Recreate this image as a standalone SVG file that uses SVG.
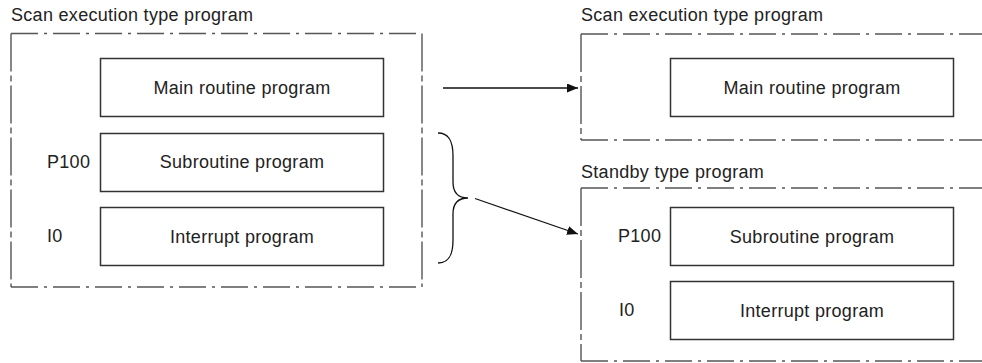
<svg xmlns="http://www.w3.org/2000/svg" width="982" height="363" viewBox="0 0 982 363">
<style>
text{font-family:"Liberation Sans",Arial,sans-serif;font-size:18px;letter-spacing:0.3px;fill:#222}
.c{text-anchor:middle}
.box{fill:#fff;stroke:#333;stroke-width:1.5}
.h{stroke:#555;stroke-width:1.4;stroke-dasharray:27 6 3 6;fill:none}
.v{stroke:#555;stroke-width:1.4;stroke-dasharray:38 4 6 4;fill:none}
.ln{stroke:#111;stroke-width:1.3;fill:none}
</style>
<defs>
<marker id="ah" markerWidth="11" markerHeight="9" refX="11" refY="4.5" orient="auto" markerUnits="userSpaceOnUse">
<path d="M0,0 L11,4.5 L0,9 Z" fill="#111"/>
</marker>
</defs>
<g id="scan-left">
<text x="11" y="21">Scan execution type program</text>
<line class="h" x1="11" y1="33.5" x2="422" y2="33.5"/>
<line class="h" x1="11" y1="287" x2="422" y2="287"/>
<line class="v" x1="11" y1="33.5" x2="11" y2="287"/>
<line class="v" x1="422" y1="33.5" x2="422" y2="287"/>
</g>
<g id="main-left">
<rect class="box" x="100.5" y="58.5" width="283" height="58"/>
<text class="c" x="242" y="93.5">Main routine program</text>
</g>
<g id="sub-left">
<text x="47" y="168">P100</text>
<rect class="box" x="100.5" y="133.5" width="283" height="58"/>
<text class="c" x="242" y="168">Subroutine program</text>
</g>
<g id="int-left">
<text x="47" y="242">I0</text>
<rect class="box" x="100.5" y="207.5" width="283" height="58"/>
<text class="c" x="242" y="243">Interrupt program</text>
</g>
<g id="scan-right">
<text x="581" y="21">Scan execution type program</text>
<line class="h" x1="581" y1="34" x2="990" y2="34"/>
<line class="h" x1="581" y1="140" x2="990" y2="140"/>
<line class="v" x1="581" y1="34" x2="581" y2="140"/>
</g>
<g id="main-right">
<rect class="box" x="670.5" y="58.5" width="283" height="58"/>
<text class="c" x="812" y="93.5">Main routine program</text>
</g>
<g id="standby-right">
<text x="581" y="178">Standby type program</text>
<line class="h" x1="581" y1="188" x2="990" y2="188"/>
<line class="h" x1="581" y1="361" x2="990" y2="361"/>
<line class="v" x1="581" y1="188" x2="581" y2="361"/>
</g>
<g id="sub-right">
<text x="618" y="242">P100</text>
<rect class="box" x="670.5" y="207.5" width="283" height="58"/>
<text class="c" x="812" y="243">Subroutine program</text>
</g>
<g id="int-right">
<text x="619" y="316">I0</text>
<rect class="box" x="670.5" y="281.5" width="283" height="58"/>
<text class="c" x="812" y="317">Interrupt program</text>
</g>
<g id="connectors">
<line class="ln" x1="443" y1="88" x2="578" y2="88" marker-end="url(#ah)"/>
<path class="ln" d="M438,133 C449,133 453,141 453,156 L453,182 C453,193 458,198 468,198 C458,198 453,203 453,214 L453,240 C453,255 449,263 438,263"/>
<line class="ln" x1="475" y1="198.5" x2="578" y2="234" marker-end="url(#ah)"/>
</g>
</svg>
